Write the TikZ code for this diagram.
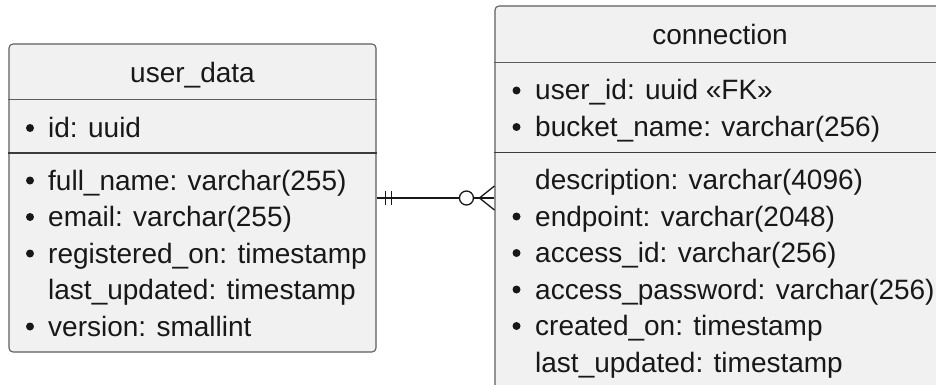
\documentclass[tikz,border=0pt]{standalone}
\usepackage{fontspec}
\setmainfont{Liberation Sans}
\usetikzlibrary{calc}
\definecolor{boxfill}{HTML}{F1F1F1}
\definecolor{boxline}{HTML}{5E5E5E}
\definecolor{ink}{HTML}{181818}
\tikzset{
  entity/.style={draw=boxline, line width=1.1pt, fill=boxfill, rounded corners=4pt, inner sep=0pt},
  sepline/.style={draw=boxline, line width=1pt},
  sepbold/.style={draw=ink!85, line width=1.4pt},
  fld/.style={anchor=base west, inner sep=0pt, text=ink, font=\fontsize{28}{34}\selectfont},
  ttl/.style={anchor=base, inner sep=0pt, text=ink, font=\fontsize{28}{34}\selectfont},
  bul/.style={fill=ink, draw=none},
  rel/.style={draw=ink, line width=1.3pt}
}
\begin{document}
\begin{tikzpicture}[x=1pt,y=-1pt]
\useasboundingbox (0,0) rectangle (936,385);
\clip (0,0) rectangle (936,385);
% user_data entity
\node[entity, minimum width=367pt, minimum height=308pt] (ud) at (192.5,198) {};
\draw[sepline] (ud.west |- 0,100) -- (ud.east |- 0,100);
\draw[sepbold] (ud.west |- 0,153) -- (ud.east |- 0,153);
\node[ttl] (udt) at (192.5,83) {user\_data};
\node[fld] (ud1) at (48,137.5) {id: uuid};
\node[fld] (ud2) at (48,190) {full\_name: varchar(255)};
\node[fld] (ud3) at (48,226.5) {email: varchar(255)};
\node[fld] (ud4) at (48,263) {registered\_on: timestamp};
\node[fld] (ud5) at (48,299.5) {last\_updated: timestamp};
\node[fld] (ud6) at (48,336) {version: smallint};
\foreach \y in {128,180.5,217,253.5,326.5} \fill[bul] (30,\y) circle (4pt);
% connection entity
\node[entity, minimum width=450pt, minimum height=384pt] (cn) at (720,198) {};
\draw[sepline] (cn.west |- 0,62.5) -- (cn.east |- 0,62.5);
\draw[sepbold] (cn.west |- 0,152.7) -- (cn.east |- 0,152.7);
\node[ttl] (cnt) at (720,45) {connection};
\node[fld] (cn1) at (535,100) {user\_id: uuid «FK»};
\node[fld] (cn2) at (535,136.5) {bucket\_name: varchar(256)};
\node[fld] (cn3) at (535,189) {description: varchar(4096)};
\node[fld] (cn4) at (535,226) {endpoint: varchar(2048)};
\node[fld] (cn5) at (535,262.5) {access\_id: varchar(256)};
\node[fld] (cn6) at (535,299) {access\_password: varchar(256)};
\node[fld] (cn7) at (535,335.5) {created\_on: timestamp};
\node[fld] (cn8) at (535,372) {last\_updated: timestamp};
\foreach \y in {90.5,127,216.5,253,289.5,326} \fill[bul] (516.5,\y) circle (4pt);
% relationship
\coordinate (ci) at ($(cn.west)+(-28,0)$);
\draw[rel] (ud.east) -- ($(cn.west)+(-35,0)$);
\draw[rel] ($(cn.west)+(-21,0)$) -- (cn.west);
\draw[rel] ($(ud.east)+(9,-7)$) -- ($(ud.east)+(9,7)$);
\draw[rel] ($(ud.east)+(15,-7)$) -- ($(ud.east)+(15,7)$);
\draw[rel] (ci) circle (7pt);
\draw[rel] ($(cn.west)+(0,-12)$) -- ($(cn.west)+(-15,0)$) -- ($(cn.west)+(0,12)$);
\end{tikzpicture}
\end{document}
